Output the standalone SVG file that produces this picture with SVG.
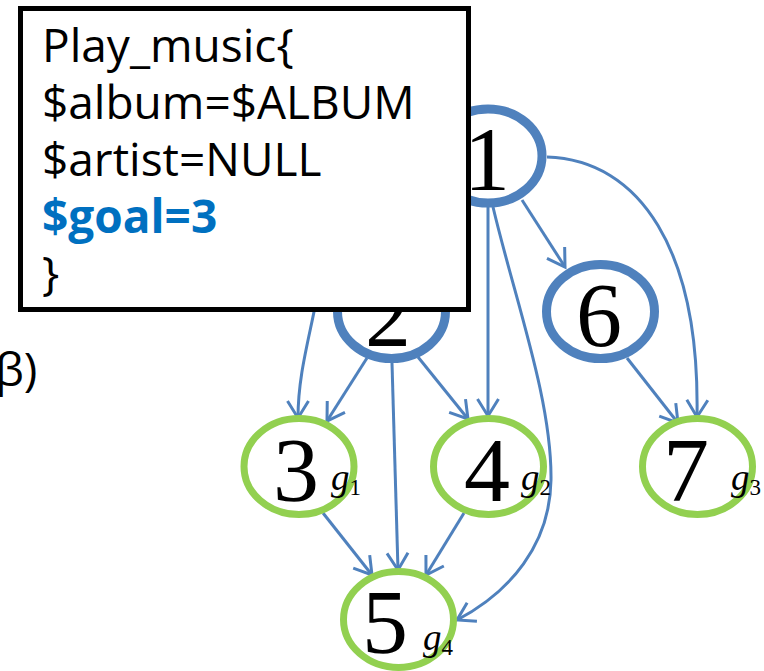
<svg xmlns="http://www.w3.org/2000/svg" width="764" height="671" viewBox="0 0 764 671">
  <style>
    .edge { fill: none; stroke: #4F81BD; stroke-width: 3; marker-end: url(#arrow); }
    .inner { fill: #FFFFFF; stroke: #4F81BD; stroke-width: 9; }
    .goal { fill: #FFFFFF; stroke: #92D050; stroke-width: 7; }
    .num { font-family: "Liberation Serif", "DejaVu Serif", serif; font-size: 92px; fill: #000000; text-anchor: middle; }
    .sub { font-family: "Liberation Serif", "DejaVu Serif", serif; fill: #000000; }
    .sub .g { font-style: italic; font-size: 37px; }
    .sub .i { font-size: 23px; }
    .code { font-family: "Open Sans", "Noto Sans", "Liberation Sans", sans-serif; font-size: 46px; fill: #000000; }
    .code .hl { fill: #0070C0; font-weight: bold; }
  </style>
  <defs>
    <marker id="arrow" markerUnits="userSpaceOnUse" markerWidth="40" markerHeight="40" viewBox="-20 -20 40 40" refX="0" refY="0" orient="auto" overflow="visible">
      <path d="M-17,-10.5 L0,0 L-17,10.5" fill="none" stroke="#4F81BD" stroke-width="3" stroke-linejoin="miter"/>
    </marker>
  </defs>

  <!-- fragment of a caption running off the left edge -->
  <text class="code" x="-5" y="386">β)</text>

  <!-- connectors -->
  <g id="edges">
    <path class="edge" d="M522,200 L565,267"/>
    <path class="edge" d="M488,207 L488,416"/>
    <path class="edge" d="M493,207 C515,300 552,400 551,480 C550,545 510,592 457,620"/>
    <path class="edge" d="M547,157 C640,160 700,250 697,417"/>
    <path class="edge" d="M627,358 L678,423"/>
    <path class="edge" d="M320,280 C312,330 298,370 298,418"/>
    <path class="edge" d="M367,358 L327,421"/>
    <path class="edge" d="M418,357 L468,419"/>
    <path class="edge" d="M392,363 L398,570"/>
    <path class="edge" d="M323,513 L372,575"/>
    <path class="edge" d="M464,513 L426,575"/>
  </g>

  <!-- states -->
  <g id="node1">
    <ellipse class="inner" cx="488" cy="156" rx="54" ry="47"/>
    <text class="num" x="487" y="190">1</text>
  </g>
  <g id="node2">
    <ellipse class="inner" cx="391.5" cy="311.5" rx="54" ry="47"/>
    <text class="num" x="388" y="345.5">2</text>
  </g>
  <g id="node6">
    <ellipse class="inner" cx="600.5" cy="311.5" rx="54" ry="47"/>
    <text class="num" x="599" y="345.5">6</text>
  </g>
  <g id="node3">
    <ellipse class="goal" cx="299" cy="466.5" rx="55" ry="48"/>
    <text class="num" x="296" y="500.5">3</text>
    <text class="sub" x="331" y="490"><tspan class="g">g</tspan><tspan class="i" dy="5">1</tspan></text>
  </g>
  <g id="node4">
    <ellipse class="goal" cx="488.5" cy="466.5" rx="55" ry="48"/>
    <text class="num" x="487" y="500.5">4</text>
    <text class="sub" x="521" y="490"><tspan class="g">g</tspan><tspan class="i" dy="5">2</tspan></text>
  </g>
  <g id="node7">
    <ellipse class="goal" cx="697.5" cy="466.5" rx="55" ry="48"/>
    <text class="num" x="686" y="500.5">7</text>
    <text class="sub" x="731" y="490"><tspan class="g">g</tspan><tspan class="i" dy="5">3</tspan></text>
  </g>
  <g id="node5">
    <ellipse class="goal" cx="398.5" cy="619.5" rx="55" ry="48"/>
    <text class="num" x="385" y="653">5</text>
    <text class="sub" x="423" y="650"><tspan class="g">g</tspan><tspan class="i" dy="5">4</tspan></text>
  </g>

  <!-- slot-filling callout -->
  <g id="callout">
    <rect x="20.5" y="8.5" width="448" height="301" fill="#FFFFFF" stroke="#000000" stroke-width="5"/>
    <text class="code" x="42" y="62">Play_music{</text>
    <text class="code" x="42" y="119">$album=$ALBUM</text>
    <text class="code" x="42" y="176">$artist=NULL</text>
    <text class="code" x="42" y="233"><tspan class="hl">$goal=3</tspan></text>
    <text class="code" x="42" y="290">}</text>
  </g>
</svg>
